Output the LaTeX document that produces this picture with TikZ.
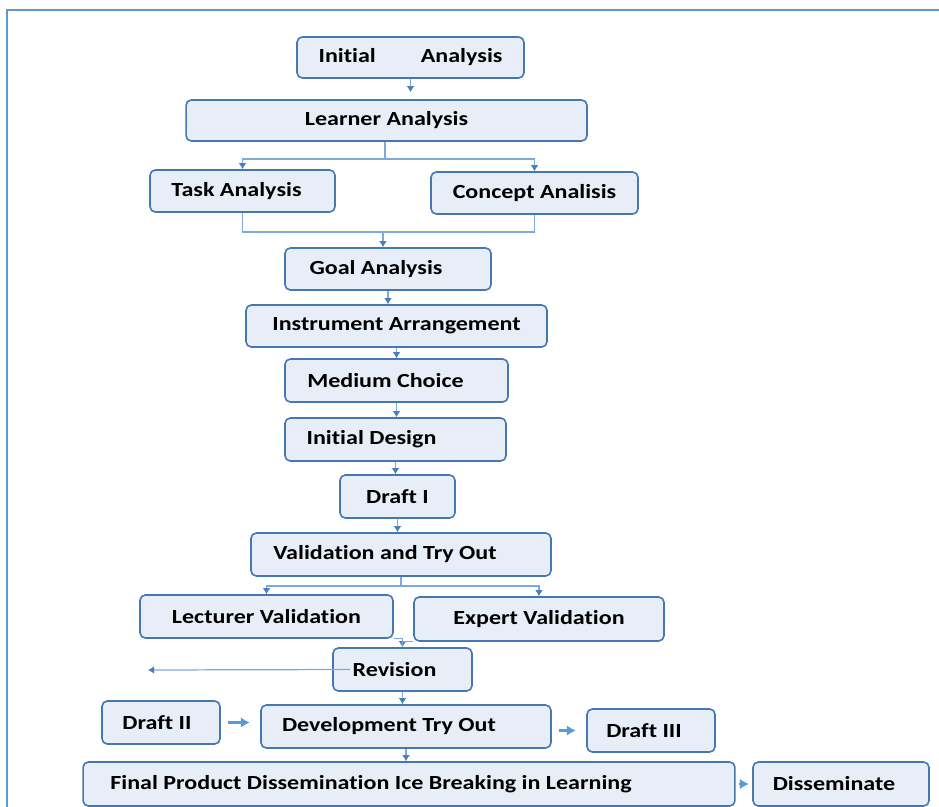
\documentclass[tikz,border=0pt]{standalone}
\usepackage{fontspec}
\setmainfont{Carlito}[FakeStretch=1.2,Ligatures={NoCommon,NoRare}]
\usepackage{xcolor}
\usetikzlibrary{arrows.meta,positioning,calc}

\definecolor{boxfill}{HTML}{E7EEF8}
\definecolor{boxline}{HTML}{4577B3}
\definecolor{linkblue}{HTML}{7FA9DA}
\definecolor{tipblue}{HTML}{4A7EBB}
\definecolor{arrowblue}{HTML}{5B9BD5}

\begin{document}
\begin{tikzpicture}[
    x=0.02cm,y=-0.02cm,
    font=\fontsize{11.4}{13}\selectfont\bfseries,
    stagebox/.style={draw=boxline,line width=0.9pt,fill=boxfill,
      rounded corners=3pt,inner sep=0pt,align=center},
    link/.style={draw=linkblue,line width=0.7pt,
      -{Latex[length=3.5pt,width=4.5pt,color=tipblue]}},
    plainlink/.style={draw=linkblue,line width=0.7pt},
    step arrow/.style={draw=arrowblue,line width=1.2pt,
      -{Latex[length=5pt,width=6pt]}}
  ]
    \useasboundingbox (0,0) rectangle (939,807);
    \draw[arrowblue,line width=0.8pt] (7,807) -- (7,10) -- (939,10);

    % analysis stages
    \node[stagebox,minimum width=4.54cm,minimum height=0.82cm] (init)
      at (410.5,57.5) {Initial\hspace*{0.9cm}Analysis};
    \node[stagebox,minimum width=8.02cm,minimum height=0.82cm] (learner)
      at (386.5,120.5) {Learner Analysis};
    \node[stagebox,minimum width=3.70cm,minimum height=0.84cm] (task)
      at (242.5,191) {Task Analysis\hspace*{0.24cm}};
    \node[stagebox,minimum width=4.14cm,minimum height=0.84cm] (concept)
      at (534.5,193) {Concept Analisis};
    \node[stagebox,minimum width=4.12cm,minimum height=0.84cm] (goal)
      at (388,269) {Goal Analysis\hspace*{0.48cm}};

    % design stages
    \node[stagebox,minimum width=6.02cm,minimum height=0.84cm] (instr)
      at (396.5,326) {Instrument Arrangement};
    \node[stagebox,minimum width=4.46cm,minimum height=0.86cm] (medium)
      at (396.5,380.5) {Medium Choice\hspace*{0.44cm}};
    \node[stagebox,minimum width=4.42cm,minimum height=0.86cm] (idesign)
      at (395.5,439.5) {Initial Design\hspace*{0.96cm}};
    \node[stagebox,minimum width=2.30cm,minimum height=0.86cm] (draftone)
      at (397.5,496.5) {Draft I};

    % development stages
    \node[stagebox,minimum width=6.00cm,minimum height=0.86cm] (valid)
      at (401,554.5) {Validation and Try Out\hspace*{0.64cm}};
    \node[stagebox,minimum width=5.06cm,minimum height=0.86cm] (lect)
      at (266.5,616.5) {Lecturer Validation};
    \node[stagebox,minimum width=5.00cm,minimum height=0.88cm] (expert)
      at (539,619) {Expert Validation};
    \node[stagebox,minimum width=2.78cm,minimum height=0.86cm] (revision)
      at (402.5,669.5) {Revision\hspace*{0.32cm}};
    \node[stagebox,minimum width=2.36cm,minimum height=0.86cm] (drafttwo)
      at (161,722.5) {Draft II\hspace*{0.16cm}};
    \node[stagebox,minimum width=5.80cm,minimum height=0.86cm] (devtry)
      at (406,726.5) {Development Try Out\hspace*{0.68cm}};
    \node[stagebox,minimum width=2.56cm,minimum height=0.86cm] (draftthree)
      at (651,730.5) {Draft III\hspace*{0.28cm}};

    % dissemination
    \node[stagebox,minimum width=13.04cm,minimum height=0.88cm] (final)
      at (409,784) {Final Product Dissemination Ice Breaking in Learning\hspace*{1.52cm}};
    \node[stagebox,minimum width=3.52cm,minimum height=0.88cm] (dissem)
      at (841,784) {Disseminate\hspace*{0.28cm}};

    \coordinate (forkone) at (385,159);
    \coordinate (joinone) at (383,232);
    \coordinate (forktwo) at (401,586);
    \coordinate (revend) at (148,670);

    \draw[link,shorten >=4pt] (init.south) -- (init.south |- learner.north);
    \draw[plainlink] (learner.south -| forkone) -- (forkone);
    \draw[link] (forkone) -| (task.north);
    \draw[link] (forkone) -| (concept.north);
    \draw[plainlink] (task.south) |- (joinone) -| (concept.south);
    \draw[link] (joinone) -- (joinone |- goal.north);

    \draw[link] (goal.south) -- (goal.south |- instr.north);
    \draw[link] (instr.south) -- (instr.south |- medium.north);
    \draw[link] (medium.south) -- (medium.south |- idesign.north);
    \draw[link] (idesign.south) -- (idesign.south |- draftone.north);
    \draw[link] (draftone.south) -- (draftone.south |- valid.north);

    \draw[plainlink] (valid.south) -- (forktwo);
    \draw[link] (forktwo) -| (lect.north);
    \draw[link] (forktwo) -| (expert.north);
    \draw[link] (lect.south east) -| (revision.north);
    \draw[plainlink] (expert.south west) -| (revision.north);
    \draw[link] ([xshift=0.36cm]revision.west) -- (revend);
    \draw[link] (revision.south) -- (revision.south |- devtry.north);

    \draw[step arrow,shorten <=4pt,shorten >=6pt]
      (drafttwo.east) -- (drafttwo.east -| devtry.west);
    \draw[step arrow,shorten <=4pt,shorten >=6pt]
      (draftthree.west -| devtry.east) -- (draftthree.west);
    \draw[link] (devtry.south) -- (devtry.south |- final.north);
    \draw[step arrow,shorten <=2pt,shorten >=2pt]
      (final.east) -- (dissem.west);
  \end{tikzpicture}
\end{document}
